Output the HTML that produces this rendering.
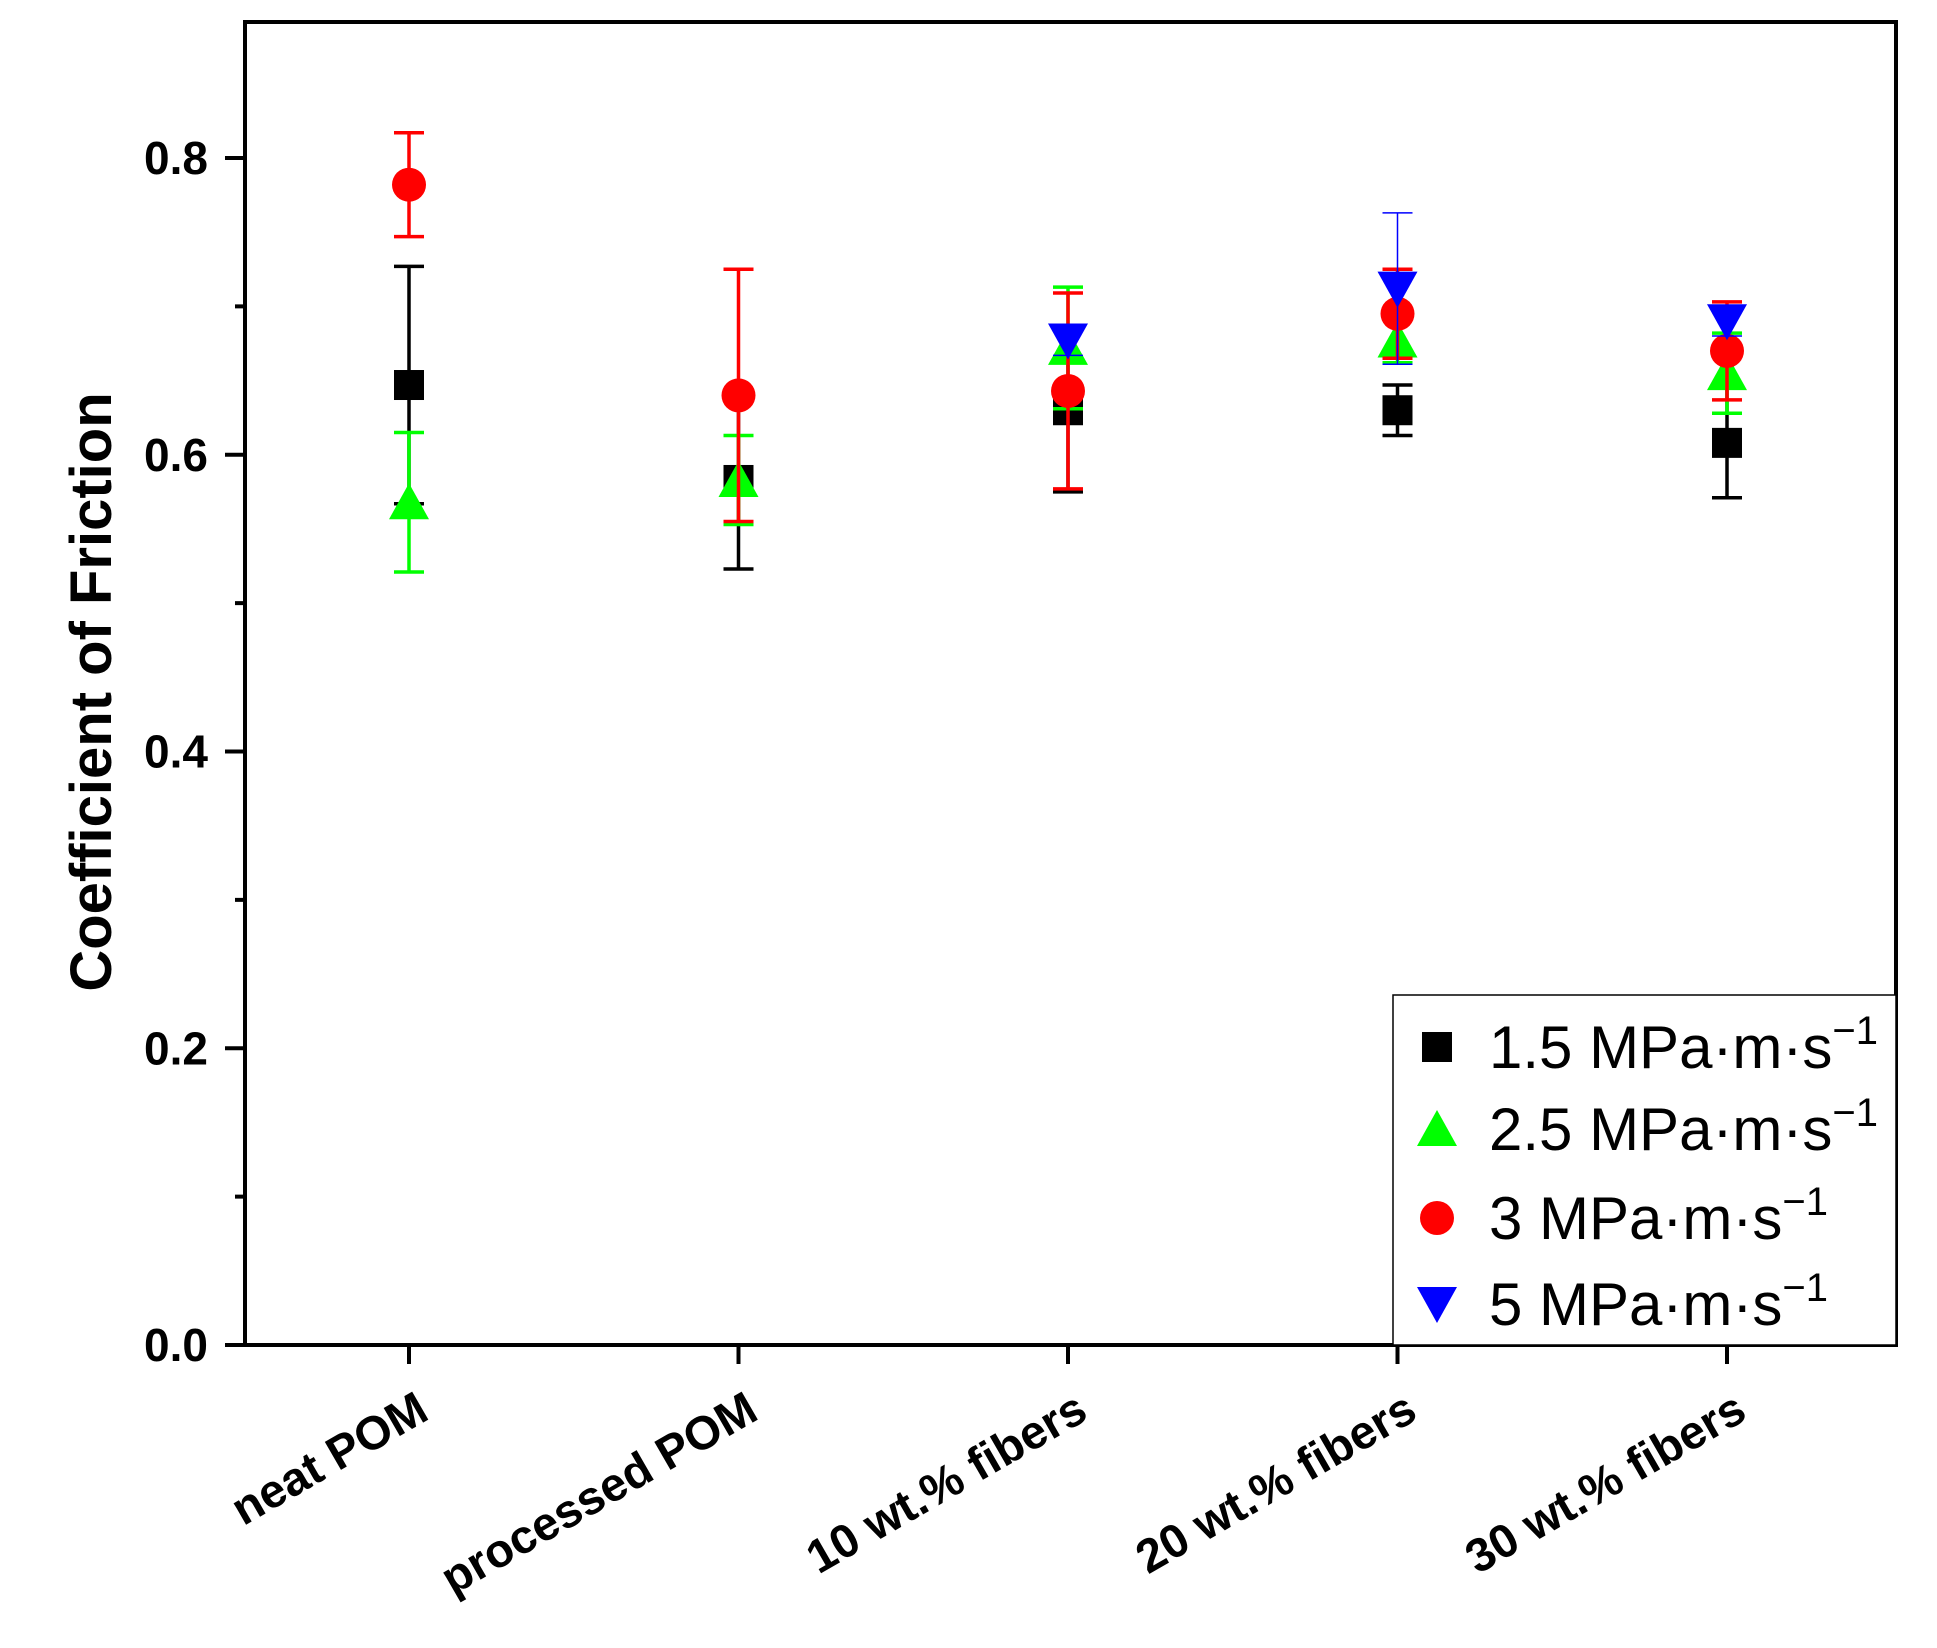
<!DOCTYPE html>
<html><head><meta charset="utf-8"><style>
html,body{margin:0;padding:0;background:#fff}
svg{display:block;font-family:"Liberation Sans",Arial,sans-serif}
</style></head><body>
<svg id="chart" width="1937" height="1648" viewBox="0 0 1937 1648">
<g id="axes"></g>
<g id="marks"></g>
<g id="legend"></g>
</svg>
<script>
const categories = ["neat POM","processed POM","10 wt.% fibers","20 wt.% fibers","30 wt.% fibers"];
const seriesNames = ["1.5 MPa·m·s","2.5 MPa·m·s","3 MPa·m·s","5 MPa·m·s"];
const s15 = [0.647,0.583,0.630,0.630,0.608];
const e15 = [0.080,0.060,0.055,0.017,0.037];
const s25 = [0.568,0.583,0.672,0.677,0.655];
const e25 = [0.047,0.030,0.041,0.015,0.027];
const s3  = [0.782,0.640,0.643,0.695,0.670];
const e3  = [0.035,0.085,0.066,0.030,0.033];
const s5  = [null,null,0.677,0.712,0.690];
const e5  = [null,null,0.010,0.051,0.010];
const yTicks = [0.0,0.2,0.4,0.6,0.8];
const yMinor = [0.1,0.3,0.5,0.7];

const NS="http://www.w3.org/2000/svg";
const L=245,R=1896,T=22,B=1345;
const yS=v=>B-(v/0.8)*(B-158);
const xS=i=>409+i*329.5;
function mk(tag,attrs,parent){const e=document.createElementNS(NS,tag);for(const k in attrs)e.setAttribute(k,attrs[k]);parent.appendChild(e);return e;}
const axes=document.getElementById('axes'),marks=document.getElementById('marks'),legend=document.getElementById('legend');

let frame=mk('rect',{x:L,y:T,width:R-L,height:B-T,fill:'none',stroke:'#000','stroke-width':4},axes);


yTicks.forEach(v=>{
  let t=mk('line',{x1:225,x2:L,y1:yS(v),y2:yS(v),stroke:'#000','stroke-width':4},axes);
  
  
  let lb=mk('text',{x:208,y:yS(v)+16,'text-anchor':'end','font-size':46,'font-weight':'bold'},axes);
  lb.textContent=v.toFixed(1);
  
  
});
yMinor.forEach(v=>{
  let t=mk('line',{x1:235,x2:L,y1:yS(v),y2:yS(v),stroke:'#000','stroke-width':4},axes);
  
  
});
let yt=mk('text',{x:0,y:0,transform:'translate(111,692) rotate(-90)','text-anchor':'middle','font-size':58,'font-weight':'bold'},axes);
yt.textContent='Coefficient of Friction';


categories.forEach((c,i)=>{
  let t=mk('line',{x1:xS(i),x2:xS(i),y1:B,y2:1364,stroke:'#000','stroke-width':4},axes);
  
  
  let lb=mk('text',{x:0,y:0,transform:`translate(${xS(i)+22},${1418}) rotate(-30)`,'text-anchor':'end','font-size':47,'font-weight':'bold'},axes);
  lb.textContent=c;
  
  
});

function marker(shape,color,cx,cy,parent){
  let e;
  if(shape==='sq') e=mk('rect',{x:cx-15,y:cy-15,width:30,height:30,fill:color},parent);
  else if(shape==='ci') e=mk('ellipse',{cx:cx,cy:cy,rx:17,ry:17,fill:color},parent);
  else if(shape==='up') e=mk('polygon',{points:`${cx-20},${cy+17} ${cx+20},${cy+17} ${cx},${cy-19}`,fill:color},parent);
  else e=mk('polygon',{points:`${cx-20},${cy-17} ${cx+20},${cy-17} ${cx},${cy+19}`,fill:color},parent);
  return e;
}
const series=[[s15,e15,'sq','#000',3.5],[s25,e25,'up','#00ff00',3.5],[s3,e3,'ci','#ff0000',3.5],[s5,e5,'dn','#0000ff',1.5]];
series.forEach(([vals,errs,shape,color,w],si)=>{
  vals.forEach((v,i)=>{
    if(v===null)return;
    const x=xS(i),y1=yS(v+errs[i]),y2=yS(v-errs[i]);
    const g=mk('g',{},marks);
    
    
    mk('line',{x1:x,x2:x,y1:y1,y2:y2,stroke:color,'stroke-width':w},g);
    mk('line',{x1:x-15,x2:x+15,y1:y1,y2:y1,stroke:color,'stroke-width':w},g);
    mk('line',{x1:x-15,x2:x+15,y1:y2,y2:y2,stroke:color,'stroke-width':w},g);
    marker(shape,color,x,yS(v),g);
  });
});
let lbx=mk('rect',{x:1393,y:995,width:503,height:350,fill:'#fff',stroke:'#000','stroke-width':1.5},legend);


const ly=[1047,1129,1218,1304];
series.forEach(([v,e,shape,color],si)=>{
  const g=mk('g',{},legend);
  
  
  marker(shape,color,1437,ly[si],g);
  const t=mk('text',{x:1489,y:ly[si]+21,'font-size':60},g);
  t.textContent=seriesNames[si];
  const sp=mk('tspan',{dy:-24,'font-size':40},t);
  sp.textContent='−1';
});
</script>
</body></html>
